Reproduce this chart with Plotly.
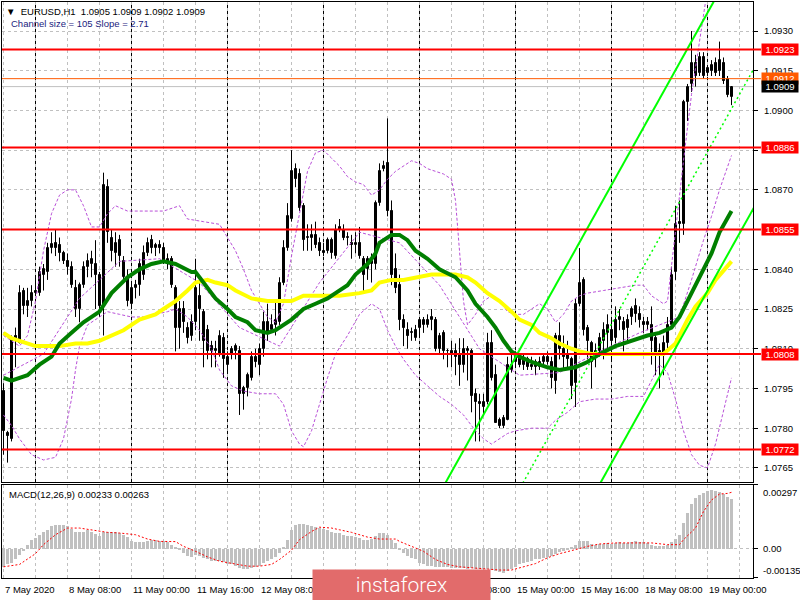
import plotly.graph_objects as go

FONT = "Liberation Sans, Arial, sans-serif"

# ---------------- EURUSD H1 candles (bar index 0 = 7 May 2020 16:00) ----------------
opens = [
    1.0794, 1.0778, 1.0776, 1.0815, 1.0812, 1.0832, 1.0826, 1.0828, 1.0832, 1.0831,
    1.0838, 1.0839, 1.0848, 1.0850, 1.0849, 1.0846, 1.0843, 1.0841, 1.0833, 1.0825,
    1.0834, 1.0841, 1.0842, 1.0842, 1.0838, 1.0826, 1.0871, 1.0852, 1.0846, 1.0851,
    1.0843, 1.0837, 1.0827, 1.0833, 1.0834, 1.0838, 1.0846, 1.0851, 1.0848, 1.0849,
    1.0848, 1.0842, 1.0844, 1.0833, 1.0818, 1.0825, 1.0818, 1.0815, 1.0820, 1.0830,
    1.0824, 1.0817, 1.0811, 1.0809, 1.0808, 1.0814, 1.0804, 1.0808, 1.0809, 1.0809,
    1.0793, 1.0795, 1.0799, 1.0807, 1.0804, 1.0810, 1.0820, 1.0817, 1.0819, 1.0820,
    1.0835, 1.0848, 1.0859, 1.0878, 1.0876, 1.0864, 1.0852, 1.0852, 1.0853, 1.0850,
    1.0847, 1.0847, 1.0851, 1.0845, 1.0855, 1.0855, 1.0852, 1.0850, 1.0849, 1.0850,
    1.0844, 1.0840, 1.0842, 1.0842, 1.0865, 1.0878, 1.0880, 1.0862, 1.0840, 1.0834,
    1.0821, 1.0817, 1.0816, 1.0814, 1.0818, 1.0819, 1.0819, 1.0821, 1.0821, 1.0810,
    1.0816, 1.0809, 1.0809, 1.0807, 1.0808, 1.0804, 1.0809, 1.0809, 1.0793, 1.0790,
    1.0788, 1.0790, 1.0812, 1.0800, 1.0783, 1.0781, 1.0783, 1.0802, 1.0805, 1.0807,
    1.0804, 1.0806, 1.0804, 1.0803, 1.0803, 1.0805, 1.0807, 1.0805, 1.0798, 1.0815,
    1.0810, 1.0808, 1.0806, 1.0797, 1.0827, 1.0836, 1.0818, 1.0812, 1.0807, 1.0809,
    1.0813, 1.0816, 1.0817, 1.0814, 1.0821, 1.0820, 1.0821, 1.0822, 1.0826, 1.0823,
    1.0820, 1.0819, 1.0819, 1.0814, 1.0809, 1.0808, 1.0812, 1.0819, 1.0839, 1.0858,
    1.0857, 1.0903, 1.0910, 1.0918, 1.0914, 1.0920, 1.0914, 1.0915, 1.0918, 1.0915,
    1.0918, 1.0912, 1.0905]
highs = [
    1.0797, 1.0779, 1.0815, 1.0818, 1.0834, 1.0833, 1.0833, 1.0834, 1.0837, 1.0841,
    1.0842, 1.0850, 1.0854, 1.0855, 1.0852, 1.0847, 1.0846, 1.0843, 1.0836, 1.0835,
    1.0843, 1.0846, 1.0847, 1.0851, 1.0839, 1.08765, 1.0874, 1.0855, 1.0854, 1.0853,
    1.0845, 1.0840, 1.0835, 1.0836, 1.0844, 1.0849, 1.0852, 1.0853, 1.0850, 1.0851,
    1.0850, 1.0846, 1.0845, 1.0834, 1.0828, 1.0828, 1.0820, 1.0823, 1.0844, 1.0835,
    1.0825, 1.0819, 1.0813, 1.0813, 1.0817, 1.0816, 1.0809, 1.0811, 1.0812, 1.0811,
    1.0796, 1.0801, 1.0809, 1.0810, 1.0812, 1.0824, 1.0827, 1.0823, 1.0828, 1.0837,
    1.0851, 1.0865, 1.0885, 1.0880, 1.0878, 1.0865, 1.0857, 1.0857, 1.0858, 1.0852,
    1.0850, 1.0852, 1.0852, 1.0857, 1.0859, 1.0857, 1.0854, 1.0853, 1.0854, 1.0856,
    1.0845, 1.0845, 1.0846, 1.0866, 1.0880, 1.0881, 1.0897, 1.0866, 1.0846, 1.0838,
    1.0823, 1.0820, 1.0818, 1.0819, 1.0822, 1.0822, 1.0823, 1.0825, 1.0822, 1.0816,
    1.0817, 1.0810, 1.0813, 1.0812, 1.0814, 1.0814, 1.0811, 1.0810, 1.0795, 1.0793,
    1.0793, 1.0816, 1.0817, 1.0804, 1.0784, 1.0785, 1.0807, 1.0808, 1.0809, 1.0808,
    1.0808, 1.0807, 1.0807, 1.0806, 1.0807, 1.0808, 1.0809, 1.0807, 1.0816, 1.0820,
    1.0815, 1.0813, 1.0807, 1.0829, 1.0848, 1.0837, 1.0819, 1.0813, 1.0812, 1.0816,
    1.0820, 1.0823, 1.0822, 1.0826, 1.0825, 1.0822, 1.0823, 1.0826, 1.0829, 1.0826,
    1.0822, 1.0822, 1.0826, 1.0816, 1.0812, 1.0815, 1.0822, 1.0841, 1.0864, 1.0866,
    1.0904, 1.0910, 1.0930, 1.0921, 1.0922, 1.0922, 1.0917, 1.0919, 1.0920, 1.0926,
    1.0920, 1.0913, 1.0909]
lows = [
    1.0770, 1.0767, 1.0775, 1.0803, 1.0812, 1.0823, 1.0822, 1.0826, 1.0830, 1.0830,
    1.0832, 1.0836, 1.0846, 1.0845, 1.0843, 1.0842, 1.0838, 1.0833, 1.0822, 1.0820,
    1.0833, 1.0837, 1.0837, 1.0825, 1.0822, 1.0815, 1.0850, 1.0843, 1.0841, 1.0841,
    1.0835, 1.0826, 1.0825, 1.0829, 1.0830, 1.0836, 1.0845, 1.0846, 1.0845, 1.0846,
    1.0842, 1.0840, 1.0833, 1.0809, 1.0810, 1.0816, 1.0812, 1.0813, 1.0817, 1.0813,
    1.0803, 1.0806, 1.0803, 1.0803, 1.0807, 1.0799, 1.0801, 1.0806, 1.0806, 1.0785,
    1.0787, 1.0792, 1.0798, 1.0803, 1.0800, 1.0807, 1.0813, 1.0816, 1.0815, 1.0819,
    1.0834, 1.0847, 1.0858, 1.0871, 1.0862, 1.0847, 1.0847, 1.0847, 1.0848, 1.0845,
    1.0845, 1.0846, 1.0844, 1.0844, 1.0854, 1.0851, 1.0849, 1.0844, 1.0846, 1.0844,
    1.0831, 1.0836, 1.0835, 1.0840, 1.0864, 1.0877, 1.0860, 1.0834, 1.0831, 1.0817,
    1.0811, 1.0810, 1.0813, 1.0813, 1.0815, 1.0816, 1.0818, 1.0817, 1.0809, 1.0808,
    1.0806, 1.0803, 1.0803, 1.0800, 1.0796, 1.0801, 1.0798, 1.0786, 1.0775, 1.0775,
    1.0785, 1.0789, 1.0798, 1.0782, 1.0780, 1.0780, 1.0783, 1.0801, 1.0803, 1.0803,
    1.0802, 1.0802, 1.0802, 1.0800, 1.0802, 1.0804, 1.0804, 1.0795, 1.0793, 1.0806,
    1.0802, 1.0802, 1.0791, 1.0788, 1.0826, 1.0815, 1.0806, 1.0795, 1.0803, 1.0807,
    1.0806, 1.0810, 1.0805, 1.0812, 1.0817, 1.0809, 1.0812, 1.0819, 1.0820, 1.0818,
    1.0816, 1.0817, 1.0804, 1.0800, 1.0795, 1.0800, 1.0810, 1.0818, 1.0836, 1.0850,
    1.0853, 1.0896, 1.0907, 1.0909, 1.0913, 1.0912, 1.0913, 1.0913, 1.0913, 1.0913,
    1.0910, 1.0905, 1.0902]
closes = [
    1.0779, 1.0777, 1.0814, 1.0813, 1.0831, 1.0826, 1.0828, 1.0831, 1.0831, 1.0839,
    1.0840, 1.0848, 1.08495, 1.0848, 1.0846, 1.0843, 1.0841, 1.0834, 1.0825, 1.0834,
    1.0841, 1.0843, 1.0844, 1.0838, 1.0826, 1.0872, 1.0854, 1.0847, 1.0850, 1.0845,
    1.0837, 1.0828, 1.0833, 1.0834, 1.0842, 1.0846, 1.0850, 1.0848, 1.0849, 1.0848,
    1.0843, 1.0844, 1.0834, 1.0818, 1.0825, 1.0820, 1.0814, 1.0820, 1.0833, 1.0825,
    1.0813, 1.0809, 1.0809, 1.0810, 1.0815, 1.0806, 1.0807, 1.0810, 1.0811, 1.0793,
    1.0795, 1.0800, 1.0807, 1.0805, 1.0810, 1.0820, 1.0816, 1.0819, 1.0821, 1.0835,
    1.0848, 1.0860, 1.0877, 1.0874, 1.0863, 1.0851, 1.0852, 1.0853, 1.0849, 1.0847,
    1.0846, 1.0851, 1.0846, 1.0855, 1.0856, 1.0852, 1.0852, 1.0849, 1.0850, 1.0845,
    1.0838, 1.0844, 1.0843, 1.0865, 1.0877, 1.0879, 1.0862, 1.0838, 1.0833, 1.0821,
    1.0818, 1.0815, 1.0816, 1.0817, 1.0821, 1.0821, 1.0821, 1.0822, 1.0810, 1.0815,
    1.0809, 1.0809, 1.0808, 1.0809, 1.0804, 1.0810, 1.0810, 1.0792, 1.0790, 1.0789,
    1.0790, 1.0812, 1.0799, 1.0782, 1.0781, 1.0784, 1.0804, 1.0804, 1.0807, 1.0804,
    1.0806, 1.0803, 1.0803, 1.0805, 1.0805, 1.0807, 1.0805, 1.0799, 1.0815, 1.0810,
    1.0807, 1.0806, 1.0796, 1.0827, 1.0835, 1.0817, 1.0813, 1.0805, 1.0809, 1.0814,
    1.0817, 1.0819, 1.0813, 1.0821, 1.0822, 1.0817, 1.0818, 1.0825, 1.0823, 1.0821,
    1.0819, 1.0820, 1.0813, 1.0808, 1.0808, 1.0812, 1.0819, 1.0838, 1.0857, 1.0857,
    1.0903, 1.0909, 1.0918, 1.0913, 1.0920, 1.0913, 1.0916, 1.0917, 1.0914, 1.0919,
    1.0911, 1.0906, 1.0909]

# ---------------- indicator lines: (bar index, price) ----------------
ma_green_idx = [0, 2, 6, 9, 12, 14, 17, 20, 24, 27, 31, 34, 37, 40, 43, 47, 48, 51, 53, 56,
                58, 61, 63, 66, 68, 72, 75, 78, 81, 83, 86, 88, 91, 93, 94, 97, 99, 101, 103,
                106, 109, 113, 116, 118, 121, 123, 125, 127, 129, 132, 136, 139, 143, 146,
                149, 153, 157, 161, 164, 167, 169, 172, 174, 177, 179, 182]
ma_green_val = [1.0799, 1.0798, 1.0800, 1.0804, 1.0807, 1.0812, 1.0816, 1.0820, 1.0824, 1.0831,
                1.0837, 1.0840, 1.0842, 1.0843, 1.0842, 1.0839, 1.0839, 1.0833, 1.0829, 1.0825,
                1.0822, 1.0820, 1.0817, 1.0816, 1.0817, 1.0821, 1.0825, 1.0827, 1.0829, 1.0831,
                1.0834, 1.0838, 1.0842, 1.0846, 1.0850, 1.0853, 1.0853, 1.0851, 1.0847, 1.0844,
                1.0840, 1.0837, 1.0832, 1.0827, 1.0822, 1.0818, 1.0813, 1.0809, 1.0807, 1.0805,
                1.0803, 1.0802, 1.0803, 1.0805, 1.0808, 1.0811, 1.0813, 1.0815, 1.0816, 1.0818,
                1.0822, 1.0831, 1.0837, 1.0846, 1.0854, 1.0862]

ma_yellow_idx = [0, 2, 4, 8, 11, 14, 18, 21, 24, 27, 30, 34, 38, 40, 43, 46, 48, 51, 53, 56,
                 58, 62, 66, 69, 72, 75, 81, 84, 89, 92, 94, 97, 100, 103, 107, 110, 113, 116,
                 118, 121, 124, 127, 129, 132, 134, 137, 139, 142, 144, 147, 150, 155, 160,
                 165, 168, 171, 173, 176, 178, 181, 182]
ma_yellow_val = [1.0816, 1.0814, 1.0813, 1.0811, 1.0811, 1.0811, 1.0812, 1.0812, 1.0813, 1.0815,
                 1.0817, 1.0821, 1.0823, 1.0825, 1.0828, 1.0832, 1.0835, 1.0836, 1.0835, 1.0834,
                 1.0832, 1.0829, 1.0828, 1.0828, 1.0828, 1.0830, 1.0830, 1.0830, 1.0831, 1.0832,
                 1.0835, 1.0836, 1.0836, 1.0837, 1.0838, 1.0838, 1.0838, 1.0837, 1.0835, 1.0831,
                 1.0828, 1.0824, 1.0821, 1.0819, 1.0816, 1.0814, 1.0812, 1.0810, 1.0809, 1.0808,
                 1.0808, 1.0808, 1.0808, 1.0808, 1.0812, 1.0821, 1.0826, 1.0831, 1.0836, 1.0841,
                 1.0843]

bb_upper_idx = [0, 4, 6, 8, 10, 12, 14, 16, 18, 20, 22, 24, 26, 28, 31, 35, 40, 44, 46, 50,
                54, 56, 58, 60, 62, 64, 66, 68, 70, 72, 74, 76, 78, 80, 82, 84, 86, 88, 90, 92,
                94, 96, 98, 100, 102, 104, 106, 108, 110, 112, 113, 114, 115, 116, 118, 120,
                122, 124, 126, 128, 130, 132, 134, 136, 138, 140, 142, 144, 146, 150, 154, 158,
                160, 162, 164, 165, 166, 168, 170, 172, 174, 176, 178, 182]
bb_upper_val = [1.0815, 1.0811, 1.0815, 1.0828, 1.0847, 1.0861, 1.0868, 1.0870, 1.0870, 1.0864,
                1.0856, 1.0856, 1.0861, 1.0864, 1.0862, 1.0862, 1.0862, 1.0864, 1.0859, 1.0858,
                1.0857, 1.0852, 1.0847, 1.0840, 1.0832, 1.0827, 1.0822, 1.0820, 1.0827, 1.0845,
                1.0861, 1.0877, 1.0884, 1.0885, 1.0882, 1.0879, 1.0875, 1.0873, 1.0872, 1.0868,
                1.0870, 1.0874, 1.0877, 1.0879, 1.0881, 1.0880, 1.0878, 1.0877, 1.0876, 1.0874,
                1.0866, 1.0847, 1.0828, 1.0819, 1.0823, 1.0828, 1.0830, 1.0828, 1.0824, 1.0823,
                1.0823, 1.0825, 1.0827, 1.0825, 1.0820, 1.0823, 1.0828, 1.0830, 1.0831, 1.0832,
                1.0833, 1.0834, 1.0834, 1.0830, 1.0828, 1.0827, 1.0828, 1.0855, 1.0881, 1.0906,
                1.0927, 1.0946, 1.0960, 1.0970]

bb_mid_idx = [0, 10, 19, 29, 39, 49, 59, 69, 79, 89, 99, 109, 119, 129, 139, 149, 159, 169,
              172, 175, 177, 179, 182]
bb_mid_val = [1.0800, 1.0808, 1.0829, 1.0843, 1.0844, 1.0835, 1.0818, 1.0811, 1.0835, 1.0854,
              1.0850, 1.0834, 1.0810, 1.0800, 1.0801, 1.0809, 1.0816, 1.0822, 1.0836, 1.0851,
              1.0860, 1.0870, 1.0883]

bb_lower_idx = [0, 2, 4, 7, 10, 13, 15, 17, 18, 19, 21, 23, 26, 29, 32, 35, 38, 41, 43, 46,
                49, 52, 54, 57, 60, 64, 68, 70, 72, 74, 75, 77, 79, 81, 83, 86, 89, 92, 94, 96,
                98, 100, 103, 106, 109, 112, 115, 118, 120, 122, 124, 126, 128, 132, 136, 138,
                141, 144, 148, 152, 156, 160, 162, 164, 166, 168, 170, 172, 174, 176, 178, 180,
                182]
bb_lower_val = [1.0785, 1.0781, 1.0776, 1.0770, 1.0768, 1.0769, 1.0776, 1.0791, 1.0802, 1.0811,
                1.0819, 1.0821, 1.0824, 1.0823, 1.0822, 1.0822, 1.0823, 1.0824, 1.0825, 1.0822,
                1.0817, 1.0810, 1.0802, 1.0796, 1.0794, 1.0793, 1.0793, 1.0789, 1.0779, 1.0774,
                1.0773, 1.0779, 1.0789, 1.0799, 1.0808, 1.0815, 1.0823, 1.0827, 1.0825, 1.0817,
                1.0811, 1.0806, 1.0800, 1.0796, 1.0792, 1.0789, 1.0785, 1.0779, 1.0776, 1.0774,
                1.0776, 1.0778, 1.0779, 1.0780, 1.0780, 1.0783, 1.0786, 1.0790, 1.0791, 1.0791,
                1.0792, 1.0792, 1.0798, 1.0804, 1.0801, 1.0791, 1.0779, 1.0770, 1.0766, 1.0765,
                1.0774, 1.0787, 1.0799]

# regression channel (size 105 pips, slope 2.71 pips/bar)
channel_anchor_idx = 158
channel_anchor_low = 1.07831
channel_slope = 0.000271
channel_width = 0.0105
channel_span = [100, 192]

# horizontal levels
red_levels = [1.0923, 1.0886, 1.0855, 1.0808, 1.0772]
orange_level = 1.0912
bid_level = 1.0909

# ---------------- MACD(12,26,9) ----------------
macd_hist = [
    -0.00083, -0.00072, -0.00065, -0.00049, -0.00026, -0.00011, 0.0002, 0.0004, 0.00051, 0.00066,
    0.00077, 0.00089, 0.00105, 0.00112, 0.00112, 0.00112, 0.00105, 0.00092, 0.00081, 0.00077,
    0.00081, 0.00086, 0.00081, 0.00071, 0.00058, 0.00077, 0.00081, 0.00077, 0.00077, 0.00074,
    0.00066, 0.00055, 0.00035, 0.00031, 0.00031, 0.00034, 0.00038, 0.00043, 0.0004, 0.00038,
    0.00035, 0.00031, 0.0002, 0.00005, -0.00006, -0.00018, -0.00031, -0.00037, -0.00026, -0.00031,
    -0.00041, -0.00049, -0.00054, -0.00057, -0.00054, -0.00061, -0.00068, -0.00072, -0.00077, -0.00088,
    -0.00092, -0.00092, -0.00088, -0.00083, -0.00077, -0.00065, -0.00058, -0.00049, -0.00037, -0.00018,
    0.00005, 0.00043, 0.00086, 0.00112, 0.00117, 0.00115, 0.00112, 0.00108, 0.00101, 0.00097,
    0.00092, 0.00086, 0.00077, 0.00074, 0.00074, 0.00066, 0.00061, 0.00058, 0.00055, 0.00051,
    0.0004, 0.0004, 0.00046, 0.00061, 0.00074, 0.00074, 0.00066, 0.00043, 0.00028, -0.00003,
    -0.00018, -0.00031, -0.00041, -0.00049, -0.00065, -0.00072, -0.00077, -0.0008, -0.00083, -0.00083,
    -0.00083, -0.00083, -0.00088, -0.00088, -0.00088, -0.00088, -0.00092, -0.00088, -0.00092, -0.00095,
    -0.00095, -0.00092, -0.00098, -0.00103, -0.00108, -0.00114, -0.00103, -0.00092, -0.00083, -0.00072,
    -0.00065, -0.00061, -0.00057, -0.00049, -0.00046, -0.00041, -0.00037, -0.00031, -0.00022, -0.00015,
    -0.00008, -0.00003, 0.00005, 0.0002, 0.00035, 0.00038, 0.00035, 0.00025, 0.0002, 0.00023,
    0.00025, 0.00028, 0.00025, 0.00028, 0.00031, 0.00028, 0.00028, 0.00032, 0.00035, 0.00034,
    0.00031, 0.00028, 0.0002, 0.00015, 0.00012, 0.00012, 0.0002, 0.00031, 0.00046, 0.00066,
    0.0012, 0.00166, 0.00209, 0.00235, 0.00251, 0.00261, 0.00271, 0.00274, 0.00271, 0.00266,
    0.00255, 0.00243, 0.00233]
signal_idx = [0, 4, 8, 10, 13, 16, 19, 23, 26, 29, 33, 36, 39, 43, 45, 48, 51, 54, 58, 61, 64,
              67, 69, 72, 74, 77, 79, 82, 84, 87, 91, 94, 98, 99, 102, 105, 108, 111, 114, 117,
              121, 124, 127, 130, 133, 136, 139, 143, 146, 149, 153, 158, 162, 166, 169, 170,
              173, 175, 177, 179, 181, 182]
signal_val = [-0.00083, -0.00072, -0.00022, 0.0002, 0.00066, 0.00097, 0.00097, 0.00086, 0.00077,
              0.00074, 0.00066, 0.00046, 0.00035, 0.00034, 0.00012, -0.00011, -0.00037, -0.00057,
              -0.00072, -0.0008, -0.0008, -0.00072, -0.00049, -0.00006, 0.00043, 0.00081, 0.00101,
              0.00097, 0.00089, 0.00077, 0.00055, 0.00046, 0.00046, 0.00035, 0.00012, -0.00011,
              -0.00049, -0.00072, -0.00083, -0.00088, -0.00092, -0.00098, -0.00098, -0.00083,
              -0.00068, -0.00041, -0.00022, -0.00003, 0.00012, 0.00023, 0.00028, 0.00028, 0.00028,
              0.0002, 0.0002, 0.00043, 0.00097, 0.00174, 0.00227, 0.00255, 0.00258, 0.00263]
macd_top = 0.00297
macd_bottom = -0.00135

# ---------------- axes / labels ----------------
price_ticks = [1.0765, 1.0780, 1.0795, 1.0810, 1.0825, 1.0840, 1.0855, 1.0870, 1.0885,
               1.0900, 1.0915, 1.0930]
time_label_idx = [0, 16, 32, 48, 64, 80, 96, 112, 128, 144, 160, 176]
time_labels = ["7 May 2020", "8 May 08:00", "11 May 00:00", "11 May 16:00", "12 May 08:00",
               "13 May 00:00", "13 May 16:00", "14 May 08:00", "15 May 00:00", "15 May 16:00",
               "18 May 08:00", "19 May 00:00"]
grid_idx = list(range(0, 188, 8))
day_start_idx = [8, 32, 56, 80, 104, 128, 152, 176]

X_RANGE = [-0.375, 187.375]
P_RANGE = [1.075968, 1.094095]

fig = go.Figure()
n = len(closes)
idx = list(range(n))

# wicks
wx, wy = [], []
for i in idx:
    wx += [i, i, None]
    wy += [lows[i], highs[i], None]
fig.add_trace(go.Scatter(x=wx, y=wy, mode="lines", line=dict(color="black", width=1),
                         hoverinfo="skip", xaxis="x", yaxis="y"))
# bodies
min_body = 0.00002
up = [i for i in idx if closes[i] >= opens[i]]
dn = [i for i in idx if closes[i] < opens[i]]
fig.add_trace(go.Bar(x=up, y=[max(closes[i] - opens[i], min_body) for i in up],
                     base=[opens[i] for i in up], width=0.5,
                     marker=dict(color="white", line=dict(color="black", width=1)),
                     xaxis="x", yaxis="y"))
fig.add_trace(go.Bar(x=dn, y=[max(opens[i] - closes[i], min_body) for i in dn],
                     base=[closes[i] for i in dn], width=0.5,
                     marker=dict(color="black", line=dict(color="black", width=1)),
                     xaxis="x", yaxis="y"))

# Bollinger bands
for bx, by in [(bb_upper_idx, bb_upper_val), (bb_mid_idx, bb_mid_val), (bb_lower_idx, bb_lower_val)]:
    fig.add_trace(go.Scatter(x=bx, y=by, mode="lines",
                             line=dict(color="#B84FD8", width=1, dash="3px,2px"),
                             xaxis="x", yaxis="y"))
# moving averages
fig.add_trace(go.Scatter(x=ma_yellow_idx, y=ma_yellow_val, mode="lines",
                         line=dict(color="#FFFF00", width=4), xaxis="x", yaxis="y"))
fig.add_trace(go.Scatter(x=ma_green_idx, y=ma_green_val, mode="lines",
                         line=dict(color="#007F00", width=4), xaxis="x", yaxis="y"))
# channel
ch_low = [channel_anchor_low + channel_slope * (i - channel_anchor_idx) for i in channel_span]
fig.add_trace(go.Scatter(x=channel_span, y=ch_low, mode="lines",
                         line=dict(color="#00FF00", width=2), xaxis="x", yaxis="y"))
fig.add_trace(go.Scatter(x=channel_span, y=[v + channel_width for v in ch_low], mode="lines",
                         line=dict(color="#00FF00", width=2), xaxis="x", yaxis="y"))
fig.add_trace(go.Scatter(x=channel_span, y=[v + channel_width / 2 for v in ch_low], mode="lines",
                         line=dict(color="#00FF00", width=1.5, dash="2px,3px"), xaxis="x", yaxis="y"))

# MACD
fig.add_trace(go.Bar(x=idx, y=macd_hist, width=0.65, marker=dict(color="#C0C0C0", line=dict(width=0)),
                     xaxis="x2", yaxis="y2"))
fig.add_trace(go.Scatter(x=signal_idx, y=signal_val, mode="lines",
                         line=dict(color="#FF0000", width=1, dash="2px,2px"), xaxis="x2", yaxis="y2"))

shapes = []
for lv in red_levels:
    shapes.append(dict(type="line", xref="paper", yref="y", x0=0, x1=1.0106, y0=lv, y1=lv,
                       line=dict(color="#FF0000", width=2), layer="above"))
shapes.append(dict(type="line", xref="paper", yref="y", x0=0, x1=1.0106, y0=orange_level,
                   y1=orange_level, line=dict(color="#FF5A00", width=1), layer="above"))
shapes.append(dict(type="line", xref="paper", yref="y", x0=0, x1=1.0, y0=bid_level,
                   y1=bid_level, line=dict(color="#C0C0C0", width=1), layer="below"))
for d in day_start_idx:
    for yr in ["y domain", "y2 domain"]:
        shapes.append(dict(type="line", xref="x", yref=yr, x0=d, x1=d, y0=0, y1=1,
                           line=dict(color="black", width=1, dash="3px,3px"), layer="below"))

ann = []
def box(level, color):
    return dict(xref="paper", x=1, xanchor="left", xshift=8, yref="y", y=level, yanchor="middle",
                text=f"{level:.4f}", showarrow=False, bgcolor=color, borderpad=0,
                width=36, height=11, align="center",
                font=dict(color="white", size=9.5, family=FONT))
for lv in red_levels:
    ann.append(box(lv, "#FF0000"))
ann.append(box(orange_level, "#FF5A00"))
ann.append(box(closes[-1], "#000000"))

for i, t in zip(time_label_idx, time_labels):
    ann.append(dict(xref="x2", x=i, xanchor="left", xshift=-1, yref="paper", y=-0.0191,
                    yanchor="middle", text=t, showarrow=False,
                    font=dict(color="black", size=9.5, family=FONT)))

for v, anc in [(macd_top, "top"), (0.0, "middle"), (macd_bottom, "bottom")]:
    txt = "0.00" if v == 0 else f"{v:.5f}"
    ann.append(dict(xref="paper", x=1, xanchor="left", xshift=8, yref="y2", y=v, yanchor=anc,
                    text=txt, showarrow=False, font=dict(color="black", size=9.5, family=FONT)))

header = (f"\u25BC  EURUSD,H1  {opens[-1]:.4f} {highs[-1]:.4f} {lows[-1]:.4f} {closes[-1]:.4f}")
ann.append(dict(xref="paper", x=0.003, xanchor="left", yref="paper", y=(578 - 11) / 576,
                yanchor="middle", text=header, showarrow=False,
                font=dict(color="#000000", size=9.5, family=FONT)))
ann.append(dict(xref="paper", x=0.0093, xanchor="left", yref="paper", y=(578 - 24) / 576,
                yanchor="middle", text="Channel size = 105 Slope = 2.71", showarrow=False,
                font=dict(color="#1A237E", size=9.5, family=FONT)))
ann.append(dict(xref="paper", x=0.006, xanchor="left", yref="paper", y=(578 - 494) / 576,
                yanchor="middle", text=f"MACD(12,26,9) {macd_hist[-1]:.5f} {signal_val[-1]:.5f}",
                showarrow=False, font=dict(color="black", size=9.5, family=FONT)))
# watermark plate (drawn last so it covers the time labels beneath it)
ann.append(dict(xref="paper", x=0.4128, xanchor="left", yref="paper", y=0.0156,
                yanchor="top", text="instaforex", showarrow=False, bgcolor="#E26B6B",
                width=177, height=30, borderpad=0, align="center", valign="middle",
                font=dict(color="white", size=21, family="Roboto, Liberation Sans", weight=300)))

fig.update_layout(
    width=800, height=600, margin=dict(l=2, r=47, t=2, b=22),
    paper_bgcolor="white", plot_bgcolor="white", showlegend=False, barmode="overlay",
    bargap=0,
    xaxis=dict(domain=[0, 1], anchor="y", range=X_RANGE, tickvals=grid_idx, showticklabels=False,
               ticks="", showgrid=True, gridcolor="#C0C0C0", griddash="3px,3px", gridwidth=1,
               zeroline=False, showline=True, linecolor="black", linewidth=1, mirror=True),
    xaxis2=dict(domain=[0, 1], anchor="y2", range=X_RANGE, matches="x", tickvals=grid_idx,
                showticklabels=False, ticks="", showgrid=True, gridcolor="#C0C0C0",
                griddash="3px,3px", gridwidth=1, zeroline=False, showline=True, linecolor="black",
                linewidth=1, mirror=True),
    yaxis=dict(domain=[0.16667, 1], anchor="x", range=P_RANGE, side="right",
               tickvals=price_ticks, ticktext=[f"{p:.4f}" for p in price_ticks],
               ticks="outside", ticklen=4, tickcolor="black", ticklabelstandoff=4,
               tickfont=dict(color="black", size=9.5, family=FONT),
               showgrid=True, gridcolor="#C0C0C0", griddash="3px,3px", gridwidth=1,
               zeroline=False, showline=True, linecolor="black", linewidth=1, mirror=True),
    yaxis2=dict(domain=[0, 0.16146], anchor="x2", range=[macd_bottom, macd_top], side="right",
                tickvals=[macd_bottom, 0, macd_top], showticklabels=False, ticks="outside",
                ticklen=4, tickcolor="black", showgrid=True, gridcolor="#C0C0C0",
                griddash="3px,3px", zeroline=False, showline=True, linecolor="black",
                linewidth=1, mirror=True),
    shapes=shapes, annotations=ann,
)

fig.write_html("out.html", config={"displayModeBar": False},
               post_script="document.body.style.margin='0px';")
